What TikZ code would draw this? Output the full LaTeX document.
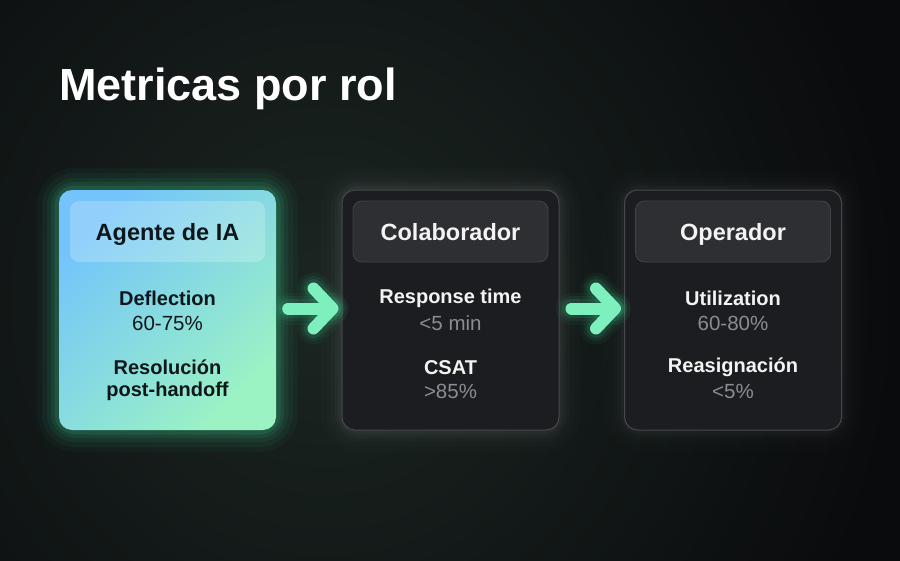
\documentclass[tikz,border=0pt]{standalone}
\usepackage{fontspec}
\setmainfont{Liberation Sans}
\usetikzlibrary{arrows.meta}
\definecolor{bgout}{HTML}{0A0B0D}
\definecolor{bgin}{HTML}{1B2622}
\definecolor{darkbox}{HTML}{1C1D20}
\definecolor{darkedge}{HTML}{46484C}
\definecolor{headfill}{HTML}{2E2F32}
\definecolor{headedge}{HTML}{414347}
\definecolor{aiblue}{HTML}{74C4FB}
\definecolor{aigreen}{HTML}{9BF3C4}
\definecolor{inkdark}{HTML}{0E161A}
\definecolor{inkwhite}{HTML}{F3F3F3}
\definecolor{inkgray}{HTML}{8C8D90}
\definecolor{mint}{HTML}{7EF0BD}
\definecolor{glowgreen}{HTML}{3FD99A}
\tikzset{
  cardbox/.style={minimum width=217pt, minimum height=240pt, rounded corners=13pt, inner sep=0pt},
  darkcard/.style={cardbox, fill=darkbox, draw=darkedge, line width=1pt},
  headbox/.style={minimum width=195pt, minimum height=61pt, rounded corners=9pt, inner sep=0pt},
  darkhead/.style={headbox, fill=headfill, draw=headedge, line width=0.8pt},
  aihead/.style={headbox, fill=white, fill opacity=0.22},
  headtext/.style={font=\fontsize{23.5}{27}\selectfont\bfseries, anchor=base, inner sep=0pt},
  lbl/.style={font=\fontsize{20}{24}\selectfont\bfseries, inner sep=0pt},
  val/.style={font=\fontsize{20.5}{24}\selectfont, inner sep=0pt},
  flowline/.style={line cap=round, line join=round, shorten <=12pt, shorten >=10pt},
}
\begin{document}
\begin{tikzpicture}[x=1pt,y=-1pt]
\useasboundingbox (0,0) rectangle (900,560);
% background
\fill[bgout] (0,0) rectangle (900,560);
\shade[inner color=bgin, outer color=bgout] (-250,-300) rectangle (900,900);
% glows
\foreach \w/\o in {44/0.04,34/0.05,24/0.07,16/0.09,9/0.12}{
  \draw[glowgreen, line width=\w pt, draw opacity=\o, rounded corners=16pt] (59,190) rectangle (276,430);
  \draw[white, line width=\w pt, draw opacity=\o*0.25, rounded corners=16pt] (343,190) rectangle (558,430);
  \draw[white, line width=\w pt, draw opacity=\o*0.18, rounded corners=16pt] (625,190) rectangle (841,430);
}
% title
\node[anchor=base west, inner sep=0pt, text=white, font=\fontsize{45}{51}\selectfont\bfseries] (title) at (59,100) {Metricas por rol};
% cards
\node[cardbox, left color=aiblue, right color=aigreen, shading angle=45] (ai) at (167.5,310) {};
\node[darkcard] (col) at (450.5,310) {};
\node[darkcard] (op) at (733,310) {};
% headers
\node[aihead] (aih) at (167.5,231.5) {};
\node[darkhead] (colh) at (450.5,231.5) {};
\node[darkhead] (oph) at (733,231.5) {};
\node[headtext, text=inkdark] (aiht) at (167.5,240.5) {Agente de IA};
\node[headtext, text=inkwhite] (colht) at (450.5,240.5) {Colaborador};
\node[headtext, text=inkwhite] (opht) at (733,240.5) {Operador};
% metrics card 1
\node[lbl, text=inkdark] (ai1) at (167.5,298.5) {Deflection};
\node[val, text=inkdark] (ai2) at (167.5,323) {60-75\%};
\node[lbl, text=inkdark] (ai3) at (167.5,367.5) {Resolución};
\node[lbl, text=inkdark] (ai4) at (167.5,391.5) {post-handoff};
% metrics card 2
\node[lbl, text=inkwhite] (c1) at (450.5,298.5) {Response time};
\node[val, text=inkgray] (c2) at (450.5,323) {<5 min};
\node[lbl, text=inkwhite] (c3) at (450.5,367.5) {CSAT};
\node[val, text=inkgray] (c4) at (450.5,391.5) {>85\%};
% metrics card 3
\node[lbl, text=inkwhite] (o1) at (733,298.5) {Utilization};
\node[val, text=inkgray] (o2) at (733,323) {60-80\%};
\node[lbl, text=inkwhite] (o3) at (733,367.5) {Reasignación};
\node[val, text=inkgray] (o4) at (733,391.5) {<5\%};
% arrows
\coordinate (a1s) at ([yshift=1.5pt]ai.east);
\coordinate (a1e) at ([yshift=1.5pt]col.west);
\coordinate (a2s) at ([yshift=1.5pt]col.east);
\coordinate (a2e) at ([yshift=1.5pt]op.west);
\foreach \s/\e in {a1s/a1e, a2s/a2e}{
  \foreach \w/\o in {32/0.05,25/0.08,19/0.12}{
    \draw[glowgreen, flowline, line width=\w pt, draw opacity=\o] (\s) -- (\e);
    \draw[glowgreen, line cap=round, line join=round, line width=\w pt, draw opacity=\o]
      ([shift={(-28,-20)}]\e) -- ([shift={(-9,0)}]\e) -- ([shift={(-28,20)}]\e);
  }
  \draw[mint, flowline, line width=12pt] (\s) -- (\e);
  \draw[mint, line cap=round, line join=round, line width=12pt]
    ([shift={(-28,-20)}]\e) -- ([shift={(-9,0)}]\e) -- ([shift={(-28,20)}]\e);
}
\end{tikzpicture}
\end{document}
